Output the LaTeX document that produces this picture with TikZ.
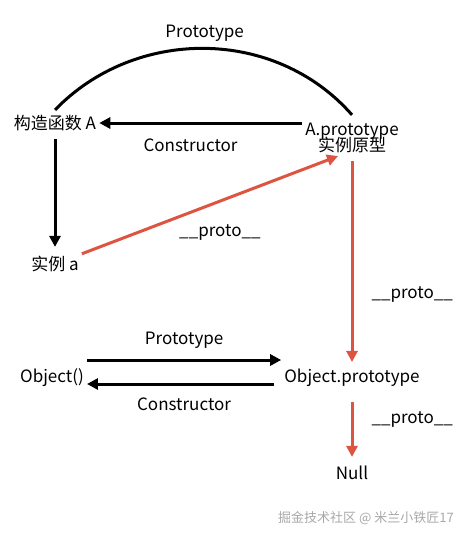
\documentclass[tikz,border=0pt]{standalone}
\usepackage{fontspec}
\setmainfont{Noto Sans CJK SC}
\usepackage{xcolor}
\definecolor{rojoProto}{HTML}{DD5440}
\definecolor{grisMarca}{HTML}{A8A8A8}
\usetikzlibrary{arrows.meta}

\begin{document}
\begin{tikzpicture}[x=1pt,y=-1pt,
  obj/.style={inner sep=3pt,align=center,font=\fontsize{17}{19}\selectfont},
  lbl/.style={inner sep=0pt,font=\fontsize{17}{19}\selectfont},
  arr/.style={-{Triangle[length=11pt,width=11pt]},line width=3pt},
  arrP/.style={arr,draw=rojoProto,-{Triangle[length=11pt,width=11pt,fill=rojoProto]}}]
  \useasboundingbox (0,0) rectangle (472,539);
  \node[obj] (ctorA) at (55,123) {构造函数 A};
  \node[obj] (proto) at (352,138) {A.prototype\\[-3pt]实例原型};
  \node[obj] (instA) at (55,264) {实例 a};
  \node[obj] (objFn) at (52,378) {Object()};
  \node[obj] (objProto) at (352,378) {Object.prototype};
  \node[obj] (null) at (352,473) {Null};
  \node[inner sep=0pt,text=grisMarca,font=\fontsize{13}{15}\selectfont] (marca) at (366,518)
    {掘金技术社区 @ 米兰小铁匠17};
  \draw[line width=3pt] ([yshift=2pt]ctorA.north) .. controls (135,27) and (275,27) ..
    node[pos=.5,lbl,above=5pt]{Prototype} ([yshift=5pt]proto.north);
  \draw[arr] (proto.west |- ctorA) -- node[pos=.55,lbl,below=14pt]{Constructor} (ctorA);
  \draw[arr,shorten <=5pt,shorten >=6pt] (ctorA) -- (instA);
  \draw[arrP] (instA) -- node[pos=.5,lbl,below=18pt,xshift=10pt]{\_\_proto\_\_}
    ([xshift=-14pt]proto.south);
  \draw[arrP,shorten <=5pt,shorten >=4pt] (proto) -- node[pos=.66,lbl,right=18pt]{\_\_proto\_\_} (objProto);
  \draw[arr] ([yshift=18pt]objFn.east) -- node[midway,lbl,above=10pt]{Prototype}
    ([yshift=18pt]objProto.west);
  \draw[arr,shorten <=7pt] ([yshift=-6pt]objProto.west) -- node[midway,lbl,below=12pt]{Constructor}
    ([yshift=-6pt]objFn.east);
  \draw[arrP,shorten <=12pt,shorten >=6pt] (objProto) -- node[pos=.4,lbl,right=18pt]{\_\_proto\_\_} (null);
\end{tikzpicture}
\end{document}
